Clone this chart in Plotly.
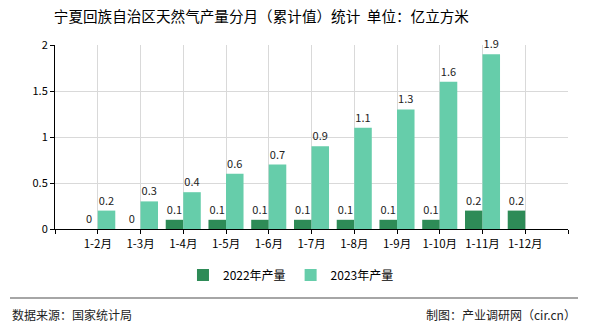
import plotly.graph_objects as go

# 分月累计值（亿立方米）
categories = ["1-2月", "1-3月", "1-4月", "1-5月", "1-6月", "1-7月",
              "1-8月", "1-9月", "1-10月", "1-11月", "1-12月"]
output_2022 = [0, 0, 0.1, 0.1, 0.1, 0.1, 0.1, 0.1, 0.1, 0.2, 0.2]
output_2023 = [0.2, 0.3, 0.4, 0.6, 0.7, 0.9, 1.1, 1.3, 1.6, 1.9, None]
series_names = ["2022年产量", "2023年产量"]
y_ticks = [0, 0.5, 1, 1.5, 2]

FONT = "Noto Sans CJK SC"
COL_2022 = "#2E8B57"
COL_2023 = "#66CDAA"

# 类目轴两端各留一个空位
xpos = list(range(len(categories)))
tick_vals = [-1] + xpos + [len(categories)]
tick_text = [""] + categories + [""]


def fmt(v):
    return "" if v is None else f"{v:g}"


fig = go.Figure()
for name, vals, col in [(series_names[0], output_2022, COL_2022),
                        (series_names[1], output_2023, COL_2023)]:
    fig.add_trace(go.Bar(
        x=xpos, y=vals, name=name, marker_color=col, marker_line_width=0,
        text=[fmt(v) for v in vals], textposition="outside",
        textfont=dict(family=FONT, size=11, color="#222"),
        cliponaxis=False,
    ))

fig.update_layout(
    width=590, height=330,
    margin=dict(l=55, r=22, t=45, b=101),
    paper_bgcolor="white", plot_bgcolor="white",
    barmode="group", bargap=0.18, bargroupgap=0,
    font=dict(family=FONT, size=11, color="#000"),
    title=dict(text="宁夏回族自治区天然气产量分月（累计值）统计  单位：亿立方米",
               xref="container", x=0.443, xanchor="center",
               y=0.948, yanchor="middle",
               font=dict(family=FONT, size=14.6, color="#000")),
    showlegend=True,
    legend=dict(orientation="h", x=0.46, xanchor="center", y=-0.25,
                yanchor="middle", font=dict(family=FONT, size=12),
                traceorder="normal"),
    xaxis=dict(range=[-1, len(categories)], tickmode="array",
               tickvals=tick_vals, ticktext=tick_text,
               showgrid=True, gridcolor="#d9d9d9", gridwidth=1,
               showline=True, linecolor="#000", linewidth=1,
               ticks="outside", ticklen=4, tickcolor="#000",
               tickfont=dict(family=FONT, size=11.5), zeroline=False),
    yaxis=dict(range=[0, 2], tickmode="array", tickvals=y_ticks,
               ticktext=[f"{v:g}" for v in y_ticks],
               showgrid=True, gridcolor="#d9d9d9", gridwidth=1,
               showline=True, linecolor="#000", linewidth=1,
               ticks="outside", ticklen=4, tickcolor="#000",
               tickfont=dict(family=FONT, size=11), zeroline=False),
    shapes=[dict(type="line", xref="paper", yref="paper",
                 x0=-0.0877, x1=1.0195, y0=-0.375, y1=-0.375,
                 line=dict(color="#888", width=1.5))],
    annotations=[
        dict(text="数据来源：国家统计局", xref="paper", yref="paper",
             x=-0.0877, y=-0.467, xanchor="left", yanchor="middle",
             showarrow=False, font=dict(family=FONT, size=12, color="#222")),
        dict(text="制图：产业调研网（cir.cn）", xref="paper", yref="paper",
             x=1.0195, y=-0.467, xanchor="right", yanchor="middle",
             showarrow=False, font=dict(family=FONT, size=12, color="#222")),
    ],
)

fig.write_html("out.html")
